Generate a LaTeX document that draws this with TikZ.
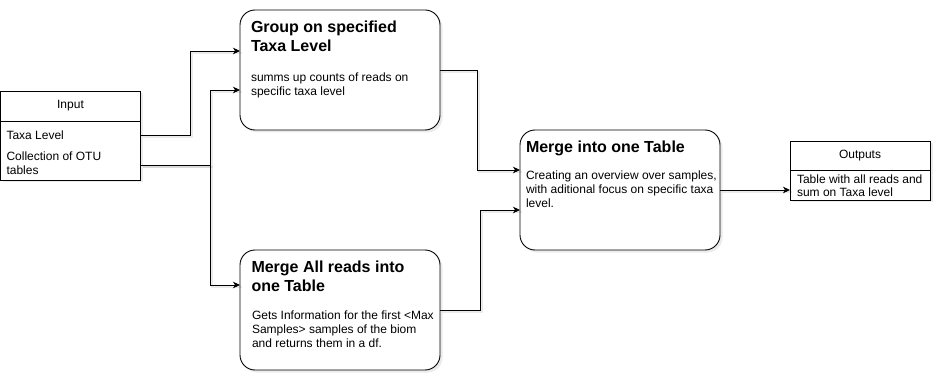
\documentclass[tikz,border=0pt]{standalone}
\usepackage{fontspec}
\setmainfont{Liberation Sans}
\usetikzlibrary{arrows.meta,shadows,calc}
\begin{document}
\begin{tikzpicture}[x=1pt,y=-1pt,
  every node/.style={inner sep=0pt, outer sep=0pt},
  softshadow/.style={drop shadow={opacity=0.16, shadow xshift=2.5pt, shadow yshift=-2.5pt}},
  procbox/.style={draw=black, line width=0.9pt, fill=white, rounded corners=15pt,
    minimum width=200pt, minimum height=120pt, softshadow},
  listpart/.style={draw=black, line width=0.9pt, fill=white, minimum width=140pt, softshadow},
  ttl/.style={anchor=north west, align=left, font=\fontsize{16}{19.2}\selectfont\bfseries},
  txt/.style={anchor=north west, align=left, font=\fontsize{12}{13.8}\selectfont},
  link/.style={line width=0.8pt, -{Stealth[length=7pt,width=6.5pt,inset=2pt]},
    preaction={draw=black, opacity=0.08, line width=2.2pt, -,
      transform canvas={shift={(2pt,-2pt)}}}}
]
\useasboundingbox (0,0) rectangle (942,382);

% input list
\node[listpart, minimum height=30pt, font=\fontsize{12}{14}\selectfont] (inhead) at (70.5,106) {Input};
\node[listpart, minimum height=59pt] (inbody) at (70.5,150.5) {};
\node[txt] (taxa) at (6.5,131) {Taxa Level};
\node[txt] (coll) at (6.5,152) {Collection of OTU\\tables};

% process steps
\node[procbox] (grp) at (340,70) {};
\node[ttl] (grpt) at ($(grp.north west)+(11,10.5)$) {Group on specified\\Taxa Level};
\node[txt] (grpb) at ($(grp.north west)+(11,63)$) {summs up counts of reads on\\specific taxa level};

\node[procbox] (mall) at (340,310) {};
\node[ttl] (mallt) at ($(mall.north west)+(11.5,10.5)$) {Merge All reads into\\one Table};
\node[txt] (mallb) at ($(mall.north west)+(12,61)$) {Gets Information for the first <Max\\Samples> samples of the biom\\and returns them in a df.};

\node[procbox] (mrg) at (620,190) {};
\node[ttl] (mrgt) at ($(mrg.north west)+(6,10.5)$) {Merge into one Table};
\node[txt] (mrgb) at ($(mrg.north west)+(6,41)$) {Creating an overview over samples,\\with aditional focus on specific taxa\\level.};

% output list
\node[listpart, minimum height=29pt, font=\fontsize{12}{14}\selectfont] (outhead) at (860,155.5) {Outputs};
\node[listpart, minimum height=30pt] (outbody) at (860,185) {};
\node[txt] (outtxt) at (797,174.5) {Table with all reads and\\sum on Taxa level};

% connectors
\draw[link] ($(inbody.north east)+(0,14)$) -| ($(grp.west)+(-50,-19)$) -- ($(grp.west)+(0,-19)$);
\draw[link] ($(inbody.north east)+(0,44)$) -| ($(grp.west)+(-30,20)$) -- ($(grp.west)+(0,20)$);
\draw[link] ($(inbody.north east)+(0,44)$) -| ($(mall.west)+(-30,-25)$) -- ($(mall.west)+(0,-25)$);
\draw[link] (grp.east) -| ($(mrg.west)+(-43,-20)$) -- ($(mrg.west)+(0,-20)$);
\draw[link] (mall.east) -| ($(mrg.west)+(-40,20)$) -- ($(mrg.west)+(0,20)$);
\draw[link] (mrg.east) -- (mrg.east -| outbody.west);
\end{tikzpicture}
\end{document}
